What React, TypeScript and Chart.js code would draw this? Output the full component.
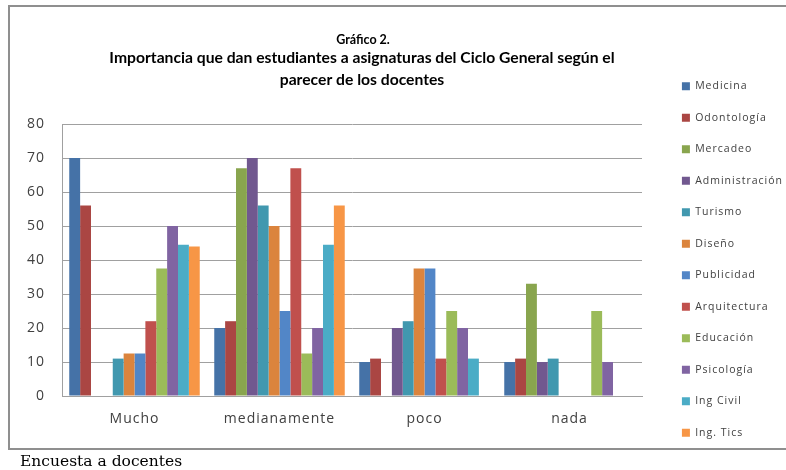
import React, { useEffect, useRef } from 'react';
import { Chart, registerables } from 'chart.js';

Chart.register(...registerables);

const categories = ['Mucho', 'medianamente', 'poco', 'nada'];

const seriesNames = [
  'Medicina',
  'Odontología',
  'Mercadeo',
  'Administración',
  'Turismo',
  'Diseño',
  'Publicidad',
  'Arquitectura',
  'Educación',
  'Psicología',
  'Ing Civil',
  'Ing. Tics',
];

const medicina = [70, 20, 10, 10];
const odontologia = [56, 22, 11, 11];
const mercadeo = [0, 67, 0, 33];
const administracion = [0, 70, 20, 10];
const turismo = [11, 56, 22, 11];
const diseno = [12.5, 50, 37.5, 0];
const publicidad = [12.5, 25, 37.5, 0];
const arquitectura = [22, 67, 11, 0];
const educacion = [37.5, 12.5, 25, 25];
const psicologia = [50, 20, 20, 10];
const ingCivil = [44.5, 44.5, 11, 0];
const ingTics = [44, 56, 0, 0];

const seriesValues = [
  medicina,
  odontologia,
  mercadeo,
  administracion,
  turismo,
  diseno,
  publicidad,
  arquitectura,
  educacion,
  psicologia,
  ingCivil,
  ingTics,
];

const seriesColors = [
  '#4572A7',
  '#AA4643',
  '#89A54E',
  '#71588F',
  '#4198AF',
  '#DB843D',
  '#5286C7',
  '#C0504D',
  '#9BBB59',
  '#8064A2',
  '#4BACC6',
  '#F79646',
];

const yMin = 0;
const yMax = 80;
const yStep = 10;

const titleLines = [
  'Gráfico 2.',
  'Importancia que dan estudiantes a asignaturas del Ciclo General según el',
  'parecer de los docentes',
];

const sourceNote = 'Encuesta a docentes';

const spacingPlugin = {
  id: 'excelSpacing',
  beforeUpdate(chart: any) {
    chart.ctx.letterSpacing = '1px';
  },
};

const titlePlugin = {
  id: 'excelTitle',
  afterDraw(chart: any) {
    const ctx = chart.ctx;
    ctx.save();
    ctx.letterSpacing = '0px';
    ctx.fillStyle = '#000000';
    ctx.textAlign = 'center';
    ctx.textBaseline = 'middle';
    ctx.font = 'bold 12.5px Lato';
    ctx.fillText(titleLines[0], 363, 40);
    ctx.font = 'bold 15.7px Lato';
    ctx.fillText(titleLines[1], 362, 58);
    ctx.fillText(titleLines[2], 362, 80);
    ctx.restore();
  },
};

export default function App() {
  const canvasRef = useRef<HTMLCanvasElement | null>(null);

  useEffect(() => {
    if (!canvasRef.current) return;
    const tickFont = { family: 'Open Sans', size: 14 };
    const chart = new Chart(canvasRef.current, {
      type: 'bar',
      data: {
        labels: categories,
        datasets: seriesNames.map((name, i) => ({
          label: name,
          data: seriesValues[i],
          backgroundColor: seriesColors[i],
          borderWidth: 0,
          categoryPercentage: 0.9,
          barPercentage: 1,
        })),
      },
      plugins: [spacingPlugin, titlePlugin],
      options: {
        responsive: false,
        animation: false,
        devicePixelRatio: 1,
        layout: { padding: { top: 60, left: 0, right: -7, bottom: 0 } },
        plugins: {
          title: {
            display: true,
            text: '',
            fullSize: false,
            font: { size: 10 },
            padding: { top: 52, bottom: 0 },
          },
          legend: {
            position: 'right',
            align: 'start',
            labels: {
              boxWidth: 8,
              boxHeight: 8,
              padding: 21,
              color: '#404040',
              font: { family: 'Open Sans', size: 10.5 },
            },
          },
          tooltip: { enabled: false },
        },
        scales: {
          x: {
            grid: { display: false, drawTicks: false },
            border: { color: '#a0a0a0', width: 1 },
            ticks: { padding: 15, color: '#404040', font: tickFont },
            afterFit: (s: any) => {
              s.height = 74;
            },
          },
          y: {
            min: yMin,
            max: yMax,
            ticks: { stepSize: yStep, padding: 17, color: '#404040', font: tickFont },
            grid: { color: '#a0a0a0', drawTicks: false },
            border: { color: '#a0a0a0', width: 1 },
            afterFit: (s: any) => {
              s.width = 62;
            },
          },
          yR: {
            type: 'linear',
            position: 'right',
            display: true,
            grid: { display: false, drawTicks: false },
            border: { display: false },
            ticks: { display: false },
            afterFit: (s: any) => {
              const lw = s.chart.legend ? s.chart.legend.width : 0;
              s.width = Math.max(0, 786 + 7 - lw - 642);
            },
          },
        },
      } as any,
    });
    return () => chart.destroy();
  }, []);

  return (
    <div>
      <div
        style={{
          position: 'absolute',
          left: 8,
          top: 5,
          width: 782,
          height: 445,
          boxSizing: 'border-box',
          border: '2px solid #8f8f8f',
          background: '#ffffff',
        }}
      />
      <canvas
        ref={canvasRef}
        width={786}
        height={470}
        style={{ position: 'absolute', left: 0, top: 0, width: 786, height: 470 }}
      />
      <div
        style={{
          position: 'absolute',
          left: 20,
          top: 452,
          fontFamily: '"DejaVu Serif", serif',
          fontSize: 15.5,
          lineHeight: '18px',
          color: '#000000',
        }}
      >
        {sourceNote}
      </div>
    </div>
  );
}
